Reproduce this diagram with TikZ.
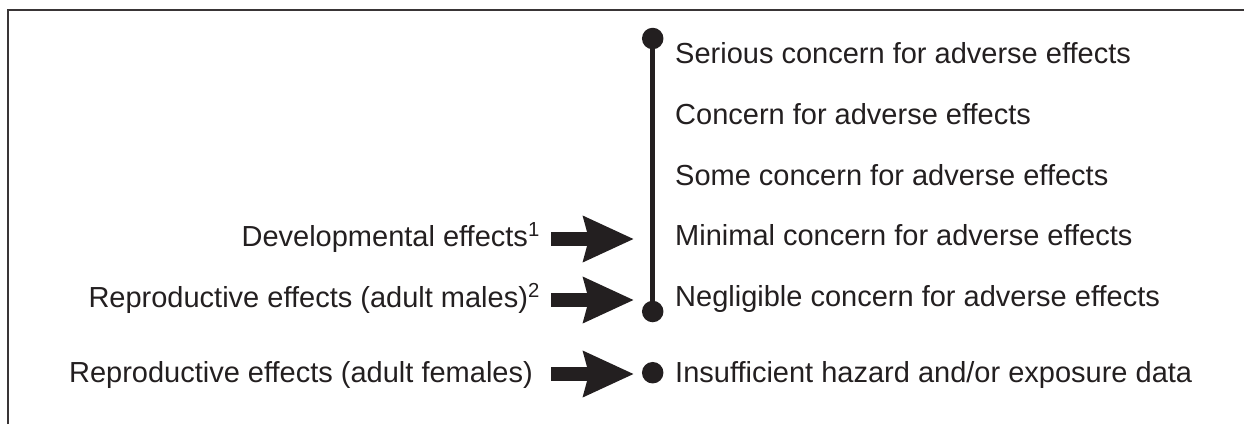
\documentclass[tikz,border=0pt]{standalone}
\usepackage{fontspec}
\setmainfont{Liberation Sans}
\usetikzlibrary{arrows.meta}
\definecolor{ink}{HTML}{231F20}
\begin{document}
\begin{tikzpicture}[x=1pt,y=-1pt,
  lbl/.style={inner sep=0pt,text=ink,font=\fontsize{29}{34}\selectfont},
  rlbl/.style={lbl,anchor=base west},
  llbl/.style={lbl,anchor=base east},
  dot/.style={circle,fill=ink,inner sep=0pt,minimum size=21.5pt},
  bigarrow/.style={draw=ink,line width=14pt,-{Stealth[length=50pt,width=44pt,inset=5pt]}},
  frame/.style={draw=ink!90,line width=2.5pt}]
\useasboundingbox (0,0) rectangle (1244,424);
\draw[frame] (8,424) -- (8,10) -- (1244,10);
% scale
\node[dot] (dtop) at (652.7,38.5) {};
\node[dot] (dbot) at (652.7,311.5) {};
\node[dot] (dins) at (652.7,372.7) {};
\draw[draw=ink,line width=4.6pt] (dtop.center) -- (dbot.center);
% right labels
\node[rlbl] (serious) at (675,63) {Serious concern for adverse effects};
\node[rlbl] (concern) at (675,124.5) {Concern for adverse effects};
\node[rlbl] (some) at (675,185) {Some concern for adverse effects};
\node[rlbl] (minimal) at (675,245.5) {Minimal concern for adverse effects};
\node[rlbl] (neglig) at (675,306) {Negligible concern for adverse effects};
\node[rlbl] (insuff) at (675,382) {Insufficient hazard and/or exposure data};
% left labels
\node[llbl] (dev) at (540,246) {Developmental effects\textsuperscript{1}};
\node[llbl] (male) at (540,307) {Reproductive effects (adult males)\textsuperscript{2}};
\node[llbl] (female) at (533,382) {Reproductive effects (adult females)};
% arrows
\coordinate (a1s) at (551,239);
\coordinate (a1e) at (634,239);
\coordinate (a2s) at (551,300);
\coordinate (a2e) at (634,300);
\coordinate (a3s) at (551,374);
\coordinate (a3e) at (634,374);
\draw[bigarrow] (a1s) -- (a1e);
\draw[bigarrow] (a2s) -- (a2e);
\draw[bigarrow] (a3s) -- (a3e);
\end{tikzpicture}
\end{document}
